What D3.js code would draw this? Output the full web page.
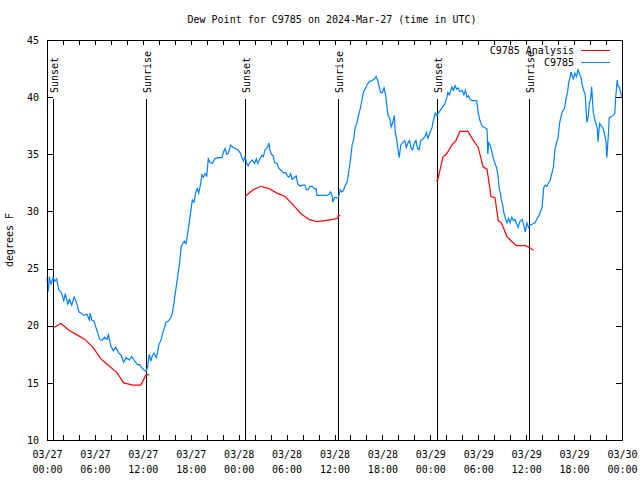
<!DOCTYPE html>
<html><head><meta charset="utf-8">
<script src="https://cdn.jsdelivr.net/npm/d3@7/dist/d3.min.js"></script>
<style>
body{margin:0;background:#fff}
svg{display:block}
text{font-family:"DejaVu Sans Mono",monospace;font-size:10px;fill:#000}
</style>
</head><body>
<svg id="chart" width="640" height="480"></svg>
<script>
// ---------- DATA (hours after 2024-03-27 00:00 UTC, degrees F) ----------
const chartTitle = "Dew Point for C9785 on 2024-Mar-27 (time in UTC)";
const yLabel = "degrees F";
const seriesNames = ["C9785 Analysis", "C9785"];

const obsHours = [0.0,0.15,0.3,0.5,0.75,1.0,1.2,1.5,1.8,2.1,2.3,2.6,2.8,3.1,3.4,3.7,4.0,4.3,4.6,5.0,5.3,5.4,5.6,5.9,6.1,6.3,6.6,6.9,7.2,7.5,7.7,8.0,8.3,8.6,9.0,9.3,9.6,9.9,10.3,10.6,10.9,11.3,11.6,11.9,12.2,12.4,12.6,12.8,13.0,13.2,13.4,13.7,14.0,14.3,14.5,14.7,14.9,15.2,15.5,15.7,15.9,16.1,16.3,16.6,16.8,17.0,17.2,17.4,17.6,17.8,18.0,18.2,18.4,18.6,18.8,19.0,19.2,19.4,19.6,19.8,20.0,20.2,20.4,20.7,21.0,21.4,21.9,22.1,22.3,22.5,22.7,23.0,23.3,23.6,23.9,24.2,24.4,24.6,24.8,25.0,25.2,25.4,25.7,26.0,26.2,26.4,26.6,26.9,27.1,27.3,27.6,27.8,27.9,28.1,28.3,28.5,28.8,29.0,29.3,29.6,29.9,30.1,30.3,30.5,30.7,30.9,31.2,31.4,31.7,32.0,32.3,32.5,32.7,32.9,33.2,33.5,33.7,33.8,34.2,34.6,35.0,35.3,35.5,35.7,35.8,36.0,36.3,36.5,36.7,36.9,37.1,37.3,37.6,37.8,38.0,38.2,38.4,38.6,38.8,39.0,39.2,39.4,39.6,39.8,40.1,40.4,40.6,40.8,41.0,41.2,41.4,41.6,41.8,42.0,42.2,42.4,42.6,42.7,42.9,43.1,43.3,43.5,43.6,43.8,44.0,44.1,44.3,44.5,44.8,45.0,45.2,45.4,45.6,45.8,46.0,46.2,46.4,46.6,46.8,47.0,47.3,47.5,47.7,48.0,48.2,48.4,48.6,48.8,49.0,49.3,49.5,49.8,50.0,50.2,50.4,50.7,50.9,51.1,51.3,51.5,51.7,52.0,52.2,52.4,52.6,52.8,53.0,53.2,53.5,53.8,54.0,54.2,54.4,54.6,54.9,55.1,55.2,55.3,55.5,55.7,55.9,56.1,56.3,56.5,56.6,56.8,56.9,57.1,57.2,57.4,57.6,57.8,58.0,58.2,58.4,58.6,58.8,59.0,59.2,59.5,59.7,59.9,60.1,60.3,60.5,60.8,61.1,61.3,61.5,61.8,62.0,62.2,62.4,62.6,62.8,63.0,63.2,63.4,63.6,63.8,64.0,64.2,64.5,64.8,65.0,65.2,65.3,65.5,65.6,65.8,65.9,66.1,66.3,66.5,66.7,66.9,67.0,67.2,67.4,67.6,67.8,67.9,68.1,68.2,68.4,68.6,68.9,69.0,69.2,69.4,69.6,69.8,70.0,70.1,70.3,70.4,70.7,70.9,71.1,71.2,71.4,71.5,71.7,71.9,72.0];
const obsDew = [24.2,23.0,24.3,23.6,24.2,23.9,24.1,23.1,22.9,22.2,22.8,21.9,22.3,21.8,22.5,22.0,21.2,21.1,20.9,21.0,20.5,21.1,20.5,20.4,19.9,19.5,18.8,18.7,19.0,18.8,19.2,18.2,17.8,18.1,17.6,17.4,16.8,17.2,17.0,17.3,17.0,16.6,16.6,16.3,16.1,16.0,16.4,17.5,16.9,17.4,17.6,17.2,18.3,18.8,19.4,19.8,20.3,20.4,20.7,21.1,22.0,23.0,24.0,25.5,26.9,27.2,27.4,27.2,28.0,29.0,30.0,31.0,30.8,31.6,32.0,31.6,32.3,33.2,33.0,33.3,33.1,34.6,34.3,34.2,34.6,34.7,34.7,35.2,35.5,35.0,35.1,35.8,35.6,35.5,35.4,35.1,34.7,34.4,34.8,34.2,34.0,34.3,34.5,34.2,34.6,34.2,34.5,34.9,34.8,35.4,35.6,36.0,35.4,35.0,34.9,34.3,34.2,33.8,33.6,33.4,33.4,33.1,33.0,33.3,32.8,32.9,33.1,32.4,32.2,32.3,32.3,31.9,31.9,32.2,32.2,32.0,32.0,31.4,31.4,31.4,31.4,31.5,31.7,31.4,30.8,31.2,31.2,31.2,31.9,31.7,31.8,32.2,32.6,33.6,34.5,35.8,36.3,37.4,37.7,38.4,38.9,39.6,40.4,40.7,41.1,41.4,41.4,41.5,41.6,41.8,41.5,40.9,40.4,40.4,40.8,40.2,39.0,38.4,38.2,37.4,37.8,38.4,37.0,36.2,35.2,34.7,35.8,36.0,36.2,35.6,36.0,36.2,35.5,35.4,36.0,36.2,35.5,35.4,36.2,36.3,36.5,36.9,36.4,37.0,37.3,38.0,38.6,38.4,38.6,38.9,39.1,39.4,39.8,40.4,40.2,40.9,40.6,41.0,40.7,40.8,40.5,40.6,40.2,40.6,40.0,40.1,39.8,39.7,39.7,39.7,38.6,38.0,37.6,37.4,37.3,37.2,35.0,36.0,35.8,35.2,34.6,34.2,33.8,33.0,32.1,31.5,31.0,30.4,29.9,29.4,29.0,29.4,29.0,29.5,29.2,29.3,28.9,28.6,29.1,29.3,28.8,28.2,29.0,28.6,28.8,28.9,29.0,29.3,29.5,30.0,30.4,32.1,32.3,32.2,32.5,32.7,33.3,33.8,35.4,36.0,36.5,37.8,38.7,39.0,39.9,40.5,41.2,41.7,42.2,41.8,41.6,42.1,41.8,42.4,42.0,41.6,41.1,40.6,40.2,37.8,38.4,39.4,40.0,40.9,38.7,38.0,37.3,36.1,37.7,37.5,37.3,36.8,36.1,34.7,36.8,38.2,38.3,38.4,38.6,39.9,41.5,41.0,40.8,40.2,40.0];

// Analysis: three overnight segments
const anaHours1 = [0.75,1.75,2.75,3.75,4.75,5.75,6.75,7.75,8.75,9.6,10.75,11.75,12.4,12.8];
const anaDew1   = [19.8,20.2,19.6,19.2,18.8,18.1,17.1,16.5,15.9,15.0,14.8,14.8,15.7,15.7];
const anaHours2 = [24.8,25.8,26.8,27.8,28.8,29.8,30.8,31.8,32.8,33.8,34.8,35.8,36.4,36.5,36.7];
const anaDew2   = [31.3,31.9,32.2,32.0,31.6,31.3,30.6,29.8,29.3,29.1,29.2,29.3,29.4,29.7,29.6];
const anaHours3 = [48.7,48.9,49.6,50.0,50.7,51.2,51.7,52.7,53.4,54.0,54.6,55.1,55.6,56.1,56.5,56.9,57.6,58.3,58.8,59.9,60.5,60.9];
const anaDew3   = [32.7,32.7,34.8,35.0,35.8,36.2,37.0,37.0,36.2,35.6,33.9,33.7,31.3,31.2,29.2,29.0,27.8,27.3,27.0,27.0,26.8,26.6];

const sunHours  = [0.75,12.4,24.8,36.45,48.85,60.35];
const sunLabels = ["Sunset","Sunrise","Sunset","Sunrise","Sunset","Sunrise"];

const yTicks = [10,15,20,25,30,35,40,45];
const xTickHours = [0,6,12,18,24,30,36,42,48,54,60,66,72];
const xTickDates = ["03/27","03/27","03/27","03/27","03/28","03/28","03/28","03/28","03/29","03/29","03/29","03/29","03/30"];
const xTickTimes = ["00:00","06:00","12:00","18:00","00:00","06:00","12:00","18:00","00:00","06:00","12:00","18:00","00:00"];

// ---------- DRAW ----------
const svg = d3.select("#chart");
const L = 47, R = 622, T = 40, B = 440;
const x = d3.scaleLinear().domain([0,72]).range([L,R]);
const y = d3.scaleLinear().domain([10,45]).range([B,T]);
const blue = "#0080ff", red = "#ff0000";

svg.append("text").attr("x",332).attr("y",23).attr("text-anchor","middle").text(chartTitle);

// minor ticks every 2h, bottom and top (inward)
const minor = d3.range(0,73,2);
svg.append("g").attr("transform",`translate(0,${B})`)
  .call(d3.axisBottom(x).tickValues(minor).tickSize(-5).tickFormat("").tickSizeOuter(0))
  .call(g=>g.select(".domain").remove())
  .call(g=>g.selectAll("line").attr("stroke","#000").attr("shape-rendering","crispEdges"));
svg.append("g").attr("transform",`translate(0,${T})`)
  .call(d3.axisTop(x).tickValues(minor).tickSize(-5).tickFormat("").tickSizeOuter(0))
  .call(g=>g.select(".domain").remove())
  .call(g=>g.selectAll("line").attr("stroke","#000").attr("shape-rendering","crispEdges"));

// x labels (two lines)
const xl = svg.append("g").attr("transform",`translate(0,${B})`)
  .call(d3.axisBottom(x).tickValues(xTickHours).tickSize(0).tickPadding(0).tickFormat(""))
  .call(g=>g.select(".domain").remove());
xl.selectAll(".tick").each(function(d,i){
  const t = d3.select(this).select("text").attr("y",0).attr("dy",null)
    .style("font-family",'"DejaVu Sans Mono",monospace').style("font-size","10px").attr("fill","#000");
  t.append("tspan").attr("x",0).attr("y",18).text(xTickDates[i]);
  t.append("tspan").attr("x",0).attr("y",33).text(xTickTimes[i]);
});

// y axes (ticks inward left & right)
svg.append("g").attr("transform",`translate(${L},0)`)
  .call(d3.axisLeft(y).tickValues(yTicks).tickSize(-6).tickPadding(8).tickSizeOuter(0))
  .call(g=>g.select(".domain").remove())
  .call(g=>g.selectAll("line").attr("stroke","#000").attr("shape-rendering","crispEdges"))
  .call(g=>g.selectAll("text").style("font-family",'"DejaVu Sans Mono",monospace').style("font-size","10px").attr("fill","#000"));
svg.append("g").attr("transform",`translate(${R},0)`)
  .call(d3.axisRight(y).tickValues(yTicks).tickSize(-6).tickFormat("").tickSizeOuter(0))
  .call(g=>g.select(".domain").remove())
  .call(g=>g.selectAll("line").attr("stroke","#000").attr("shape-rendering","crispEdges"));

svg.append("text").attr("transform","translate(13,240) rotate(-90)").attr("text-anchor","middle").text(yLabel);

// sun lines
sunHours.forEach((h,i)=>{
  const sx = Math.round(x(h))+0.5;
  svg.append("line").attr("x1",sx).attr("x2",sx).attr("y1",99).attr("y2",B)
    .attr("stroke","#000").attr("stroke-width",1.5).attr("shape-rendering","crispEdges");
  svg.append("text").attr("transform",`translate(${sx+4},93) rotate(-90)`).attr("text-anchor","start").text(sunLabels[i]);
});

// data lines
const line = d3.line().x(d=>x(d[0])).y(d=>y(d[1]));
const obs = obsHours.map((h,i)=>[h,obsDew[i]]);
svg.append("path").datum(obs).attr("d",line).attr("fill","none").attr("stroke",blue).attr("stroke-width",1.2);
[[anaHours1,anaDew1],[anaHours2,anaDew2],[anaHours3,anaDew3]].forEach(([hs,vs])=>{
  svg.append("path").datum(hs.map((h,i)=>[h,vs[i]])).attr("d",line).attr("fill","none").attr("stroke",red).attr("stroke-width",1.2);
});

// frame
svg.append("rect").attr("x",L+0.5).attr("y",T+0.5).attr("width",R-L).attr("height",B-T)
  .attr("fill","none").attr("stroke","#000").attr("shape-rendering","crispEdges");

// legend
[[seriesNames[0],red,50],[seriesNames[1],blue,62]].forEach(([n,c,ly])=>{
  svg.append("text").attr("x",574).attr("y",ly+4).attr("text-anchor","end").text(n);
  svg.append("line").attr("x1",581).attr("x2",610).attr("y1",ly+0.5).attr("y2",ly+0.5).attr("stroke",c).attr("shape-rendering","crispEdges");
});
</script>
</body></html>
